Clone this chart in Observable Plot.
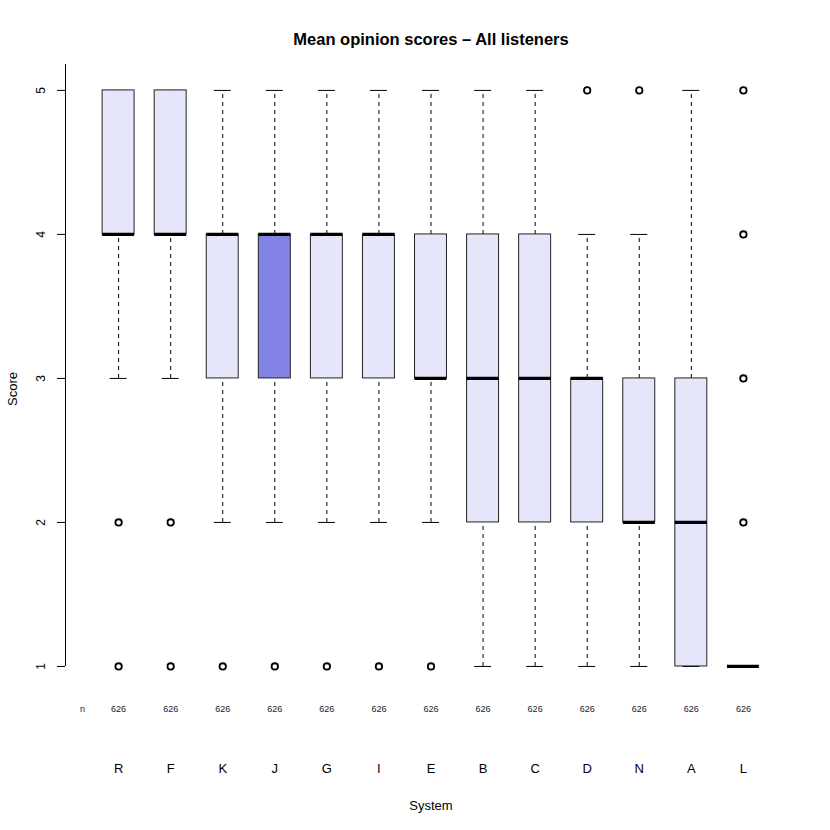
<!DOCTYPE html>
<html>
<head>
<meta charset="utf-8">
<script src="https://cdn.jsdelivr.net/npm/d3@7"></script>
<script src="https://cdn.jsdelivr.net/npm/@observablehq/plot@0.6"></script>
<style>
  html, body { margin: 0; padding: 0; background: #fff; }
  svg { font-family: "Liberation Sans", Arial, Helvetica, sans-serif; }
</style>
</head>
<body>
<div id="chart"></div>
<script>
const systems      = ["R","F","K","J","G","I","E","B","C","D","N","A","L"];
const whiskerLow   = [3, 3, 2, 2, 2, 2, 2, 1, 1, 1, 1, 1, 1];
const q1           = [4, 4, 3, 3, 3, 3, 3, 2, 2, 2, 2, 1, 1];
const median       = [4, 4, 4, 4, 4, 4, 3, 3, 3, 3, 2, 2, 1];
const q3           = [5, 5, 4, 4, 4, 4, 4, 4, 4, 3, 3, 3, 1];
const whiskerHigh  = [5, 5, 5, 5, 5, 5, 5, 5, 5, 4, 4, 5, 1];
const counts       = [626, 626, 626, 626, 626, 626, 626, 626, 626, 626, 626, 626, 626];
const outlierSystem = ["R","R","F","F","K","J","G","I","E","D","N","L","L","L","L"];
const outlierValue  = [2, 1, 2, 1, 1, 1, 1, 1, 1, 5, 5, 2, 3, 4, 5];
const highlighted = "J";
const yTicks = [1, 2, 3, 4, 5];

const rows = systems.map((s, i) => ({
  system: s, pos: i + 1,
  lo: whiskerLow[i], q1: q1[i], med: median[i], q3: q3[i], hi: whiskerHigh[i], n: counts[i]
}));
const outliers = outlierSystem.map((s, i) => ({pos: systems.indexOf(s) + 1, value: outlierValue[i]}));

const xDomain = [1 - 0.04 * 13 - 0.5, 13 + 0.5 + 0.04 * 13];
const yDomain = [0.84, 5.18];
const bw = 0.307, cw = 0.163;
const pxPerUnit = (830 - 65 - 34) / (xDomain[1] - xDomain[0]);
const tickLen = 8 / pxPerUnit;

const chart = Plot.plot({
  width: 830, height: 830,
  marginLeft: 65, marginRight: 34, marginTop: 64, marginBottom: 141,
  x: {type: "linear", domain: xDomain, axis: null},
  y: {type: "linear", domain: yDomain, axis: null},
  style: {fontFamily: "Liberation Sans, Arial, sans-serif", background: "#fff"},
  marks: [
    // y axis line & ticks
    Plot.ruleX([xDomain[0]], {x: d => d, y1: yTicks[0], y2: yDomain[1], stroke: "#000", strokeWidth: 1}),
    Plot.ruleY(yTicks, {y: d => d, x1: xDomain[0] - tickLen, x2: xDomain[0], stroke: "#000"}),
    Plot.text(yTicks, {x: xDomain[0], y: d => d, dx: -24, rotate: -90, text: d => String(d), fontSize: 12, fill: "#000"}),
    // whiskers
    Plot.ruleX(rows.filter(d => d.lo < d.q1), {x: "pos", y1: "lo", y2: "q1", stroke: "#000", strokeDasharray: "4,4"}),
    Plot.ruleX(rows.filter(d => d.hi > d.q3), {x: "pos", y1: "q3", y2: "hi", stroke: "#000", strokeDasharray: "4,4"}),
    Plot.ruleY(rows, {y: "lo", x1: d => d.pos - cw, x2: d => d.pos + cw, stroke: "#000"}),
    Plot.ruleY(rows, {y: "hi", x1: d => d.pos - cw, x2: d => d.pos + cw, stroke: "#000"}),
    // boxes
    Plot.rect(rows, {x1: d => d.pos - bw, x2: d => d.pos + bw, y1: "q1", y2: "q3",
      fill: d => d.system === highlighted ? "#8282e6" : "#e6e6fa", stroke: "#222", strokeWidth: 1}),
    Plot.ruleY(rows, {y: "med", x1: d => d.pos - bw, x2: d => d.pos + bw, stroke: "#000", strokeWidth: 3.2}),
    // outliers
    Plot.dot(outliers, {x: "pos", y: "value", r: 3.2, stroke: "#000", strokeWidth: 1.8, fill: "none"}),
    // n labels
    Plot.text(["n"], {x: xDomain[0], frameAnchor: "bottom", dx: 17, dy: 22, text: d => d, fontSize: 9, fill: "#222"}),
    Plot.text(rows, {x: "pos", frameAnchor: "bottom", dy: 22, text: d => String(d.n), fontSize: 9, fill: "#222"}),
    // system labels
    Plot.text(rows, {x: "pos", frameAnchor: "bottom", dy: 83, text: "system", fontSize: 13, fill: "#000"}),
    Plot.text(["System"], {frameAnchor: "bottom", dy: 120, text: d => d, fontSize: 13, fill: "#000"}),
    Plot.text(["Score"], {frameAnchor: "left", dx: -53, dy: 29, rotate: -90, text: d => d, fontSize: 13, fill: "#000"}),
    // title
    Plot.text(["Mean opinion scores \u2013 All listeners"], {frameAnchor: "top", dy: -31, text: d => d, fontSize: 16.5, fontWeight: "bold", fill: "#000"})
  ]
});
document.getElementById("chart").appendChild(chart);
</script>
</body>
</html>
